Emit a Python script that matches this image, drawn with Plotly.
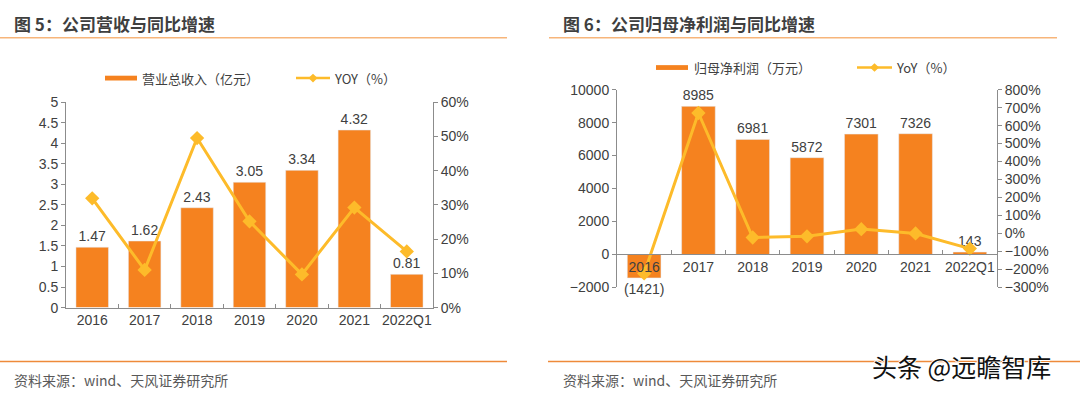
import plotly.graph_objects as go

# ---------------- data ----------------
categories = ["2016", "2017", "2018", "2019", "2020", "2021", "2022Q1"]
revenue = [1.47, 1.62, 2.43, 3.05, 3.34, 4.32, 0.81]          # 亿元
revenue_yoy = [0.319, 0.110, 0.495, 0.252, 0.097, 0.292, 0.164]
profit = [-1421, 8985, 6981, 5872, 7301, 7326, 143]           # 万元
profit_yoy = [-2.22, 6.70, -0.223, -0.159, 0.243, 0.003, -0.84]

left_title = "图 5：公司营收与同比增速"
right_title = "图 6：公司归母净利润与同比增速"
left_bar_name = "营业总收入（亿元）"
left_line_name = "YOY（%）"
right_bar_name = "归母净利润（万元）"
right_line_name = "YoY（%）"
source_text = "资料来源：wind、天风证券研究所"
watermark = "头条 @远瞻智库"

# ---------------- style ----------------
W, H = 1080, 403
BAR = "#F5821F"
LINE = "#FDBB2A"
AXIS = "#8C8C8C"
TXT = "#404040"
LAT = "Liberation Sans, Arial, Noto Sans CJK SC"
CJK = "Noto Sans CJK SC, Liberation Sans"


def px(x):
    return x / W


def py(y):
    return 1 - y / H


def bar_label(v):
    return f"({abs(v)})" if v < 0 else f"{v}"


fig = go.Figure()

# left chart
fig.add_trace(go.Bar(
    x=categories, y=revenue, xaxis="x", yaxis="y", marker_color=BAR,
    text=[bar_label(v) for v in revenue], textposition="outside",
    textfont=dict(size=14, color=TXT, family=LAT), cliponaxis=False,
    constraintext="none", showlegend=False, hoverinfo="skip"))
fig.add_trace(go.Scatter(
    x=categories, y=revenue_yoy, xaxis="x", yaxis="y2", mode="lines+markers",
    line=dict(color=LINE, width=3), marker=dict(symbol="diamond", size=11, color=LINE),
    showlegend=False, cliponaxis=False, hoverinfo="skip"))

# right chart
fig.add_trace(go.Bar(
    x=categories, y=profit, xaxis="x2", yaxis="y3", marker_color=BAR,
    text=[bar_label(v) for v in profit], textposition="outside",
    textfont=dict(size=14, color=TXT, family=LAT), cliponaxis=False,
    constraintext="none", showlegend=False, hoverinfo="skip"))
fig.add_trace(go.Scatter(
    x=categories, y=profit_yoy, xaxis="x2", yaxis="y4", mode="lines+markers",
    line=dict(color=LINE, width=3), marker=dict(symbol="diamond", size=11, color=LINE),
    showlegend=False, cliponaxis=False, hoverinfo="skip"))

L_dom_x = [px(66), px(433)]
L_dom_y = [py(312), py(98)]
R_dom_x = [px(617), px(997)]
R_dom_y = [py(291), py(85)]
R_range = [-2000, 10000]
zero_pos = R_dom_y[0] + (R_dom_y[1] - R_dom_y[0]) * (0 - R_range[0]) / (R_range[1] - R_range[0])

tickfont = dict(size=14, color=TXT, family=LAT)
common_x = dict(type="category", showline=True, linecolor=AXIS, linewidth=1,
                ticks="inside", tickson="boundaries", ticklen=4, tickcolor=AXIS,
                showgrid=False, zeroline=False, tickfont=tickfont, fixedrange=True,
                tickangle=0)
common_y = dict(showline=True, linecolor=AXIS, linewidth=1, ticks="outside",
                ticklen=4, tickcolor=AXIS, showgrid=False, zeroline=False,
                tickfont=tickfont, fixedrange=True)

fig.update_layout(
    width=W, height=H, margin=dict(l=0, r=0, t=0, b=0),
    paper_bgcolor="white", plot_bgcolor="white", bargap=0.38,
    showlegend=False,
    xaxis=dict(domain=L_dom_x, anchor="y", **common_x),
    yaxis=dict(domain=L_dom_y, anchor="x", range=[0, 5], dtick=0.5, **common_y),
    yaxis2=dict(overlaying="y", side="right", anchor="x", range=[0, 0.6], dtick=0.1,
                tickformat=".0%", **common_y),
    xaxis2=dict(domain=R_dom_x, anchor="free", position=zero_pos, **common_x),
    yaxis3=dict(domain=R_dom_y, anchor="x2", range=R_range, dtick=2000, tickformat="d",
                **common_y),
    yaxis4=dict(overlaying="y3", side="right", anchor="x2", range=[-3, 8], dtick=1,
                tickformat=".0%", **common_y),
)

shapes = []
annotations = []

# titles and rules
for x0, x1, tx, title in [(0, 507, 12, left_title), (549, 1057, 561, right_title)]:
    annotations.append(dict(xref="paper", yref="paper", x=px(tx), y=py(16), xanchor="left",
                            yanchor="middle", showarrow=False, text=f"<b>{title}</b>",
                            font=dict(size=17, color="#3F3F3F", family=CJK)))
    shapes.append(dict(type="line", xref="paper", yref="paper", x0=px(x0), x1=px(x1),
                       y0=py(31), y1=py(31), line=dict(color="#F7B57A", width=1.5)))

for x0, x1, tx in [(0, 507, 12), (548, 1080, 561)]:
    shapes.append(dict(type="line", xref="paper", yref="paper", x0=px(x0), x1=px(x1),
                       y0=py(368), y1=py(368), line=dict(color="#EE8A3A", width=1.5)))
    annotations.append(dict(xref="paper", yref="paper", x=px(tx), y=py(387), xanchor="left",
                            yanchor="middle", showarrow=False, text=source_text,
                            font=dict(size=14, color="#595959", family=CJK)))

# legends
for (sx0, sx1, sy, t1x, lx0, lx1, t2x, bname, lname) in [
        (105, 137, 73, 140, 296, 330, 332, left_bar_name, left_line_name),
        (656, 688, 62, 692, 857, 892, 894, right_bar_name, right_line_name)]:
    shapes.append(dict(type="rect", xref="paper", yref="paper", x0=px(sx0), x1=px(sx1),
                       y0=py(sy + 2.5), y1=py(sy - 2.5), fillcolor=BAR, line=dict(width=0)))
    annotations.append(dict(xref="paper", yref="paper", x=px(t1x), y=py(sy), xanchor="left",
                            yanchor="middle", showarrow=False, text=bname,
                            font=dict(size=13, color=TXT, family=CJK)))
    shapes.append(dict(type="line", xref="paper", yref="paper", x0=px(lx0), x1=px(lx1),
                       y0=py(sy), y1=py(sy), line=dict(color=LINE, width=2.5)))
    cx = (lx0 + lx1) / 2
    d = 4.5
    path = (f"M {px(cx)} {py(sy - d)} L {px(cx + d)} {py(sy)} "
            f"L {px(cx)} {py(sy + d)} L {px(cx - d)} {py(sy)} Z")
    shapes.append(dict(type="path", xref="paper", yref="paper", path=path,
                       fillcolor=LINE, line=dict(width=0)))
    annotations.append(dict(xref="paper", yref="paper", x=px(t2x), y=py(sy), xanchor="left",
                            yanchor="middle", showarrow=False, text=lname,
                            font=dict(size=13, color=TXT, family=CJK)))

# watermark
annotations.append(dict(xref="paper", yref="paper", x=px(1053), y=py(373), xanchor="right",
                        yanchor="middle", showarrow=False, text=watermark,
                        font=dict(size=25, color="#111111", family=CJK,
                                  shadow="1px 0 0 #fff, -1px 0 0 #fff, 0 1px 0 #fff, 0 -1px 0 #fff")))

fig.update_layout(shapes=shapes, annotations=annotations)
fig.write_html("out.html", config={"displayModeBar": False},
               post_script="document.body.style.margin='0';document.body.style.overflow='hidden';")
